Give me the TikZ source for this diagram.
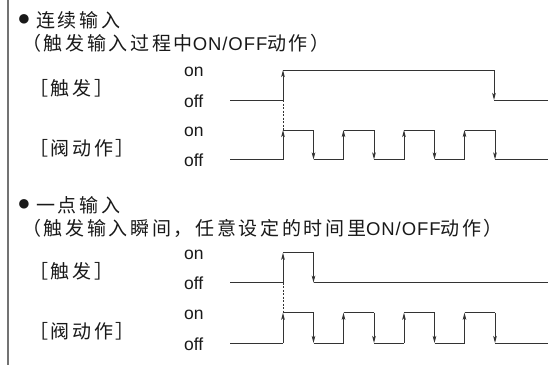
\documentclass[tikz,border=0pt]{standalone}
\usepackage{fontspec}
\setmainfont{Liberation Sans}
\newfontfamily\cjk[LetterSpace=14]{Noto Sans CJK SC}
\newfontfamily\lat{Liberation Sans}
\newfontfamily\latsp[LetterSpace=5]{Liberation Sans}
\usetikzlibrary{arrows.meta}
\newcommand\drawvalve[2]{%
  \draw[wave] (230,#1) -- (283,#1);
  \foreach \r in {283,343.5,404,464.5}{
    \pgfmathsetmacro\f{\r+30.5}
    \draw[arr] (\r,#1) -- (\r,#2);
    \draw[wave] (\r,#2) -- (\f,#2);
    \draw[arr] (\f,#2) -- (\f,#1);
  }
  \foreach \a/\b in {313.5/343.5,374/404,434.5/464.5,495/548}{
    \draw[wave] (\a,#1) -- (\b,#1);
  }
}
\newcommand\onoff{{\latsp\fontsize{18.5}{18.5}\selectfont ON/OFF}}
\begin{document}
\begin{tikzpicture}[x=1pt,y=-1pt,
  wave/.style={draw=black!80, line width=0.9pt},
  arr/.style={wave, -{Stealth[length=7pt,width=3.5pt,inset=1.5pt]}},
  dashline/.style={draw=black!80, line width=0.8pt, dash pattern=on 2pt off 1.5pt},
  lbl/.style={inner sep=0pt, anchor=west, text=black!90, font=\lat\fontsize{17.5}{17.5}\selectfont},
  ctext/.style={inner sep=0pt, anchor=west, text=black!90, font=\cjk\fontsize{19}{19}\selectfont},
  bul/.style={inner sep=0pt, text=black!90, font=\lat\fontsize{22}{22}\selectfont},
]
\useasboundingbox (0,0) rectangle (557,365);
\fill[white] (0,0) rectangle (557,365);
\draw[draw=black!55, line width=2pt] (8.3,0) -- (8.3,365);

% ---------- section 1 ----------
\node[bul] (b1) at (24,20) {●};
\node[ctext] (t1) at (36,20) {连续输入};
\node[ctext] (p1) at (22,43) {（触发输入过程中\onoff 动作）};
\node[ctext] (trg1) at (29,88) {［触发］};
\node[ctext] (vlv1) at (29,148) {［阀动作］};
\node[lbl] (on1) at (184,72) {on};
\node[lbl] (off1) at (184,101) {off};
\node[lbl] (on2) at (184,132) {on};
\node[lbl] (off2) at (184,160.5) {off};

\draw[wave] (230,100) -- (283,100);
\draw[arr] (283,100) -- (283,70);
\draw[wave] (283,70) -- (494,70);
\draw[arr] (494,70) -- (494,100);
\draw[wave] (494,100) -- (548,100);
\draw[dashline] (283,100) -- (283,130);
\drawvalve{159.5}{130}

% ---------- section 2 ----------
\node[bul] (b2) at (24,205) {●};
\node[ctext] (t2) at (36,205) {一点输入};
\node[ctext] (p2) at (22,228.5) {（触发输入瞬间，任意设定的时间里\onoff 动作）};
\node[ctext] (trg2) at (29,271) {［触发］};
\node[ctext] (vlv2) at (29,331) {［阀动作］};
\node[lbl] (on3) at (184,254.7) {on};
\node[lbl] (off3) at (184,283.7) {off};
\node[lbl] (on4) at (184,314.7) {on};
\node[lbl] (off4) at (184,344) {off};

\draw[wave] (230,282.7) -- (283,282.7);
\draw[arr] (283,282.7) -- (283,252.7);
\draw[wave] (283,252.7) -- (313.5,252.7);
\draw[arr] (313.5,252.7) -- (313.5,282.7);
\draw[wave] (313.5,282.7) -- (548,282.7);
\draw[dashline] (283,282.7) -- (283,312.7);
\drawvalve{343}{312.7}
\end{tikzpicture}
\end{document}
